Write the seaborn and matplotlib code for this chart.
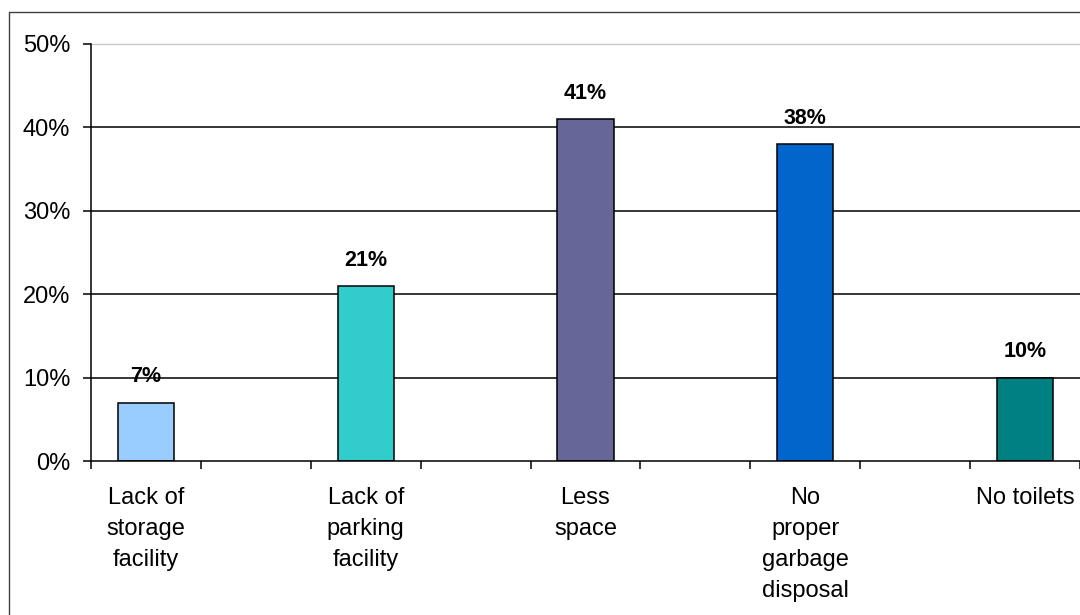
import matplotlib
matplotlib.use("Agg")
import matplotlib.pyplot as plt
from matplotlib.lines import Line2D
from matplotlib.ticker import PercentFormatter, FixedLocator
import pandas as pd
import seaborn as sns

# Problems reported and share of respondents (%)
categories = [
    "Lack of\nstorage\nfacility",
    "Lack of\nparking\nfacility",
    "Less\nspace",
    "No\nproper\ngarbage\ndisposal",
    "No toilets",
]
values = [7, 21, 41, 38, 10]
colors = ["#99CCFF", "#33CCCC", "#666699", "#0066CC", "#008080"]
y_ticks = [0, 10, 20, 30, 40, 50]

sns.set_theme(style="white")
plt.rcParams["font.family"] = ["Liberation Sans", "DejaVu Sans"]

df = pd.DataFrame({"problem": categories, "share": values})

# every problem is followed by an empty slot on the category axis
order = []
for i, c in enumerate(categories):
    order.append(c)
    if i < len(categories) - 1:
        order.append(" " * (i + 1))

fig = plt.figure(figsize=(10.8, 6.15), dpi=100)
W, H = 1080, 615
ax = fig.add_axes([91 / W, (H - 461) / H, (1080 - 91) / W, (461 - 44) / H])

sns.barplot(
    data=df, x="problem", y="share", hue="problem", order=order,
    hue_order=categories, palette=dict(zip(categories, colors)),
    saturation=1, dodge=False, width=0.51, edgecolor="black", linewidth=1.1,
    legend=False, ax=ax, zorder=3,
)

ax.set_xlim(-0.5, len(order) - 0.5)
ax.set_ylim(0, 50)
ax.set_xlabel("")
ax.set_ylabel("")

# gridlines
for v in y_ticks[1:-1]:
    ax.axhline(v, color="black", lw=1.1, zorder=1)

# tick marks at category boundaries, labels in the middle of labelled slots
ax.xaxis.set_major_locator(FixedLocator([i - 0.5 for i in range(len(order) + 1)]))
ax.xaxis.set_major_formatter(plt.NullFormatter())
ax.xaxis.set_minor_locator(FixedLocator([order.index(c) for c in categories]))
ax.set_xticklabels(categories, minor=True)
ax.tick_params(axis="x", which="major", direction="out", length=6, width=1.1,
               color="black", bottom=True)
ax.tick_params(axis="x", which="minor", length=0, pad=19, labelsize=17,
               labelcolor="black")
for t in ax.get_xticklabels(minor=True):
    t.set_linespacing(1.53)
    t.set_verticalalignment("top")

ax.set_yticks(y_ticks)
ax.yaxis.set_major_formatter(PercentFormatter(100, decimals=0))
ax.tick_params(axis="y", direction="out", length=6, width=1.1, color="black",
               left=True, pad=9, labelsize=17, labelcolor="black")

for s in ["left", "bottom"]:
    ax.spines[s].set_color("black")
    ax.spines[s].set_linewidth(1.1)
    ax.spines[s].set_zorder(4)
ax.spines["top"].set_color("#C8C8C8")
ax.spines["top"].set_linewidth(1.0)
ax.spines["right"].set_visible(False)

# value labels above the bars
for cont in ax.containers:
    ax.bar_label(cont, fmt="%.0f%%", padding=11, fontsize=15.5,
                 fontweight="bold", color="black")

# chart frame
fig.add_artist(Line2D([8.5 / W, 8.5 / W], [0, (H - 11.5) / H],
                      transform=fig.transFigure, color="#404040", lw=1.0))
fig.add_artist(Line2D([8.5 / W, 1], [(H - 11.5) / H, (H - 11.5) / H],
                      transform=fig.transFigure, color="#404040", lw=1.0))

fig.savefig("out.png", dpi=100, facecolor="white")
